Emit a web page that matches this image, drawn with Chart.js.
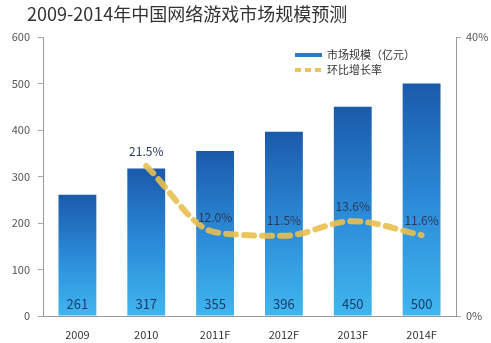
<!DOCTYPE html>
<html>
<head>
<meta charset="utf-8">
<script src="https://cdn.jsdelivr.net/npm/chart.js@4/dist/chart.umd.min.js"></script>
<style>
  body { margin: 0; background: #fff; }
  #wrap { width: 491px; height: 343px; }
</style>
</head>
<body>
<div id="wrap"><canvas id="gameChart" width="491" height="343"></canvas></div>
<script>
// market size (亿元) and growth rate per year
var years = ["2009", "2010", "2011F", "2012F", "2013F", "2014F"];
var marketSize = [261, 317, 355, 396, 450, 500];
var growthRate = [null, 21.5, 12.0, 11.5, 13.6, 11.6];
var leftTicks = [0, 100, 200, 300, 400, 500, 600];
var rightTicks = [0, 40];

var titleText = "2009-2014年中国网络游戏市场规模预测";
var fontFamily = "'Noto Sans CJK SC', 'Noto Sans', sans-serif";

function barGradient(ctx) {
	var chart = ctx.chart;
	var area = chart.chartArea;
	if (!area) return "#2a7fd0";
	var top = chart.scales.y.getPixelForValue(ctx.raw);
	var g = chart.ctx.createLinearGradient(0, top, 0, area.bottom);
	g.addColorStop(0, "#1b5aab");
	g.addColorStop(0.5, "#2b8ad8");
	g.addColorStop(1, "#40b6ee");
	return g;
}

// title, legend and value labels
var drawExtras = {
	id: "drawExtras",
	afterDraw: function(chart) {
		var c = chart.ctx;
		var area = chart.chartArea;
		c.save();

		c.fillStyle = "#333";
		c.font = "18px " + fontFamily;
		c.textAlign = "left";
		c.textBaseline = "middle";
		c.fillText(titleText, 27, 14);

		// legend
		c.lineWidth = 4;
		c.strokeStyle = "#2f79c4";
		c.beginPath();
		c.moveTo(295, 55);
		c.lineTo(322, 55);
		c.stroke();
		c.strokeStyle = "#e8c460";
		c.setLineDash([6, 4]);
		c.beginPath();
		c.moveTo(295, 70);
		c.lineTo(322, 70);
		c.stroke();
		c.setLineDash([]);
		c.fillStyle = "#333";
		c.font = "11px " + fontFamily;
		c.fillText("市场规模（亿元）", 327, 55);
		c.fillText("环比增长率", 327, 70);

		// bar values near the bottom
		c.font = "13px " + fontFamily;
		c.textAlign = "center";
		c.fillStyle = "#1c3c6c";
		var barMeta = chart.getDatasetMeta(0);
		barMeta.data.forEach(function(bar, i) {
			c.fillText(String(marketSize[i]), bar.x, area.bottom - 12);
		});

		// growth labels above the line points
		c.font = "12px " + fontFamily;
		c.fillStyle = "#2a3a55";
		var lineMeta = chart.getDatasetMeta(1);
		lineMeta.data.forEach(function(pt, i) {
			if (growthRate[i] === null) return;
			c.fillText(growthRate[i].toFixed(1) + "%", pt.x, pt.y - 15);
		});
		c.restore();
	}
};

var chartData = {
	labels: years,
	datasets: [
		{
			type: "bar",
			label: "市场规模（亿元）",
			data: marketSize,
			yAxisID: "y",
			backgroundColor: barGradient,
			barPercentage: 0.55,
			categoryPercentage: 1.0,
			order: 2
		},
		{
			type: "line",
			label: "环比增长率",
			data: growthRate,
			yAxisID: "y1",
			borderColor: "rgba(232, 192, 80, 0.9)",
			borderWidth: 6,
			borderDash: [10, 8],
			borderCapStyle: "round",
			pointRadius: 0,
			tension: 0.4,
			cubicInterpolationMode: "monotone",
			fill: false,
			order: 1
		}
	]
};

var config = {
	type: "bar",
	data: chartData,
	options: {
		responsive: false,
		animation: false,
		layout: { padding: { top: 37, left: 0, right: 0, bottom: 0 } },
		plugins: {
			legend: { display: false },
			title: { display: false },
			tooltip: { enabled: false }
		},
		scales: {
			x: {
				offset: true,
				grid: { display: false },
				border: { color: "#999", width: 1 },
				ticks: { color: "#333", font: { family: fontFamily, size: 11 }, padding: 4 },
				afterFit: function(s) { s.height = 27; }
			},
			y: {
				position: "left",
				min: 0,
				max: 600,
				afterBuildTicks: function(s) { s.ticks = leftTicks.map(function(v) { return { value: v }; }); },
				grid: { drawOnChartArea: false, tickLength: 5, color: "#aaa" },
				border: { color: "#999", width: 1 },
				ticks: { color: "#555", font: { family: fontFamily, size: 11 }, padding: 8 },
				afterFit: function(s) { s.width = 43; }
			},
			y1: {
				position: "right",
				min: 0,
				max: 40,
				afterBuildTicks: function(s) { s.ticks = rightTicks.map(function(v) { return { value: v }; }); },
				grid: { drawOnChartArea: false, tickLength: 5, color: "#aaa" },
				border: { color: "#999", width: 1 },
				ticks: {
					color: "#555",
					font: { family: fontFamily, size: 11 },
					padding: 5,
					callback: function(v) { return v + "%"; }
				},
				afterFit: function(s) { s.width = 35; }
			}
		}
	},
	plugins: [drawExtras]
};

var myChart = new Chart(document.getElementById("gameChart"), config);
</script>
</body>
</html>
